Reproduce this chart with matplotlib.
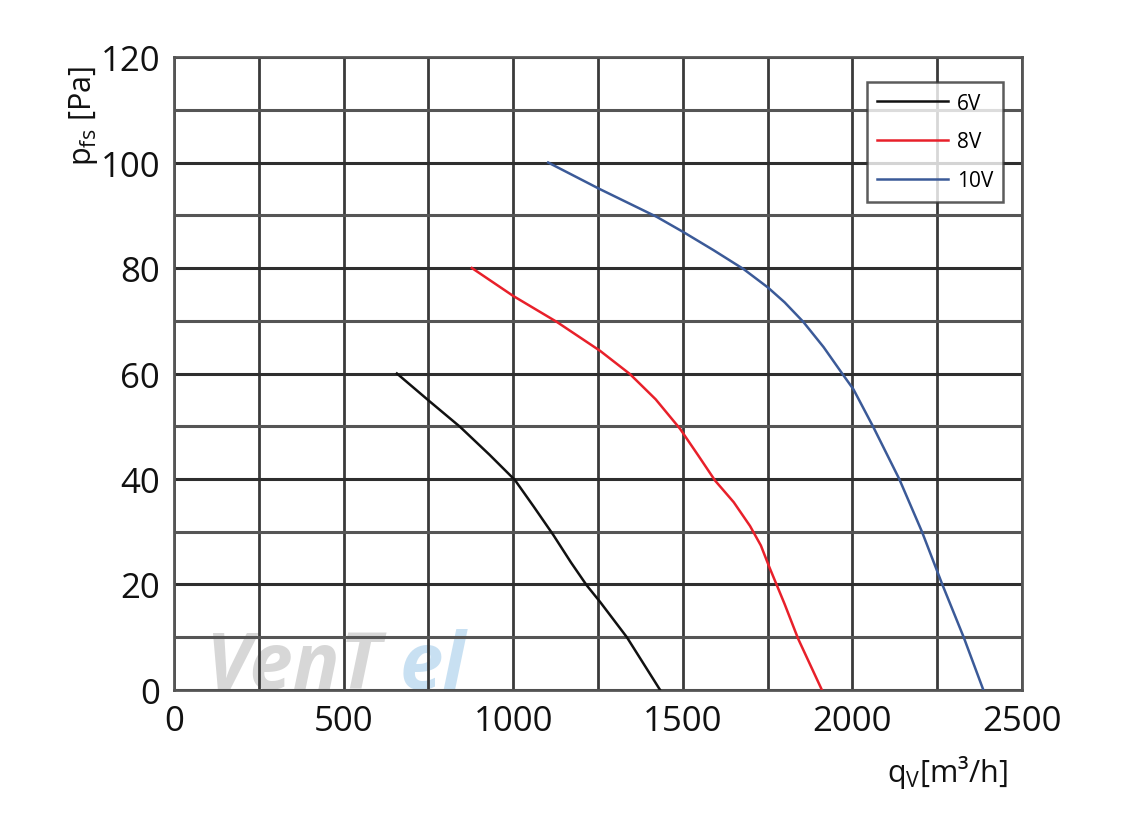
import matplotlib
matplotlib.use("Agg")
import matplotlib.pyplot as plt

# Data
q_6v = [657, 752, 843, 930, 1005, 1060, 1118, 1170, 1217, 1256, 1335, 1433]
p_6v = [60, 54.8, 49.9, 44.6, 39.8, 34.8, 29.4, 24.2, 19.8, 16.7, 10, 0]

q_8v = [878, 1000, 1128, 1256, 1344, 1420, 1492, 1545, 1595, 1650, 1698, 1730, 1755, 1800, 1840, 1910]
p_8v = [80, 74.7, 69.8, 64.3, 59.9, 55.1, 49.5, 44.5, 39.7, 35.6, 31.1, 27.4, 23.3, 16.3, 9.7, 0]

q_10v = [1103, 1254, 1423, 1502, 1590, 1679, 1751, 1800, 1855, 1915, 1973, 2003, 2062, 2138, 2205, 2265, 2328, 2386]
p_10v = [100, 95.0, 89.7, 86.8, 83.4, 79.8, 76.3, 73.5, 69.8, 65.0, 59.7, 57.0, 49.8, 40, 30, 20, 10, 0]

series_labels = ["6V", "8V", "10V"]
x_ticks = [0, 500, 1000, 1500, 2000, 2500]
y_ticks = [0, 20, 40, 60, 80, 100, 120]

plt.rcParams['font.family'] = ['Open Sans', 'DejaVu Sans']

fig = plt.figure(figsize=(11.45, 8.29), dpi=100)
ax = fig.add_axes([0.152, 0.1665, 0.7406, 0.7635])

ax.set_xlim(0, 2500)
ax.set_ylim(0, 120)

# grid
for gx in range(0, 2501, 250):
    ax.axvline(gx, color='#3a3a3a', lw=2.0, zorder=1)
for gy in range(0, 121, 10):
    ax.axhline(gy, color='#2e2e2e' if gy % 20 == 0 else '#555555', lw=2.2, zorder=1)

# watermark
ax.text(90, 4.2, "VenT", fontsize=56, fontweight='bold', style='italic',
        color='#b0b0b0', alpha=0.5, zorder=0.5, ha='left', va='center')
ax.text(665, 4.2, "el", fontsize=56, fontweight='bold', style='italic',
        color='#9cc8e8', alpha=0.55, zorder=0.5, ha='left', va='center')

colors = ['#111111', '#e8202a', '#3b5a98']
for q, p, c, lab in zip([q_6v, q_8v, q_10v], [p_6v, p_8v, p_10v], colors, series_labels):
    ax.plot(q, p, color=c, lw=1.8, label=lab, zorder=3, solid_joinstyle='round')

for s in ax.spines.values():
    s.set_color('#555555')
    s.set_linewidth(2)

ax.set_xticks(x_ticks)
ax.set_yticks(y_ticks)
ax.tick_params(length=0, labelsize=25, pad=10, colors='#111111')

fig.text(0.073, 0.86, r'$\mathregular{p_{fs}}$ [Pa]', rotation=90, fontsize=22,
         ha='center', va='center', color='#111111')
fig.text(0.827, 0.068, r'$\mathregular{q_V}$[m³/h]', fontsize=22,
         ha='center', va='center', color='#111111')

leg = ax.legend(loc='upper right', bbox_to_anchor=(0.978, 0.96), fontsize=15,
                frameon=True, fancybox=False, handlelength=3.4, labelspacing=0.85,
                borderpad=0.5, handletextpad=0.4, borderaxespad=0)
leg.get_frame().set_edgecolor('#333333')
leg.get_frame().set_linewidth(1.8)
leg.set_zorder(5)

fig.savefig("out.png", dpi=100)
